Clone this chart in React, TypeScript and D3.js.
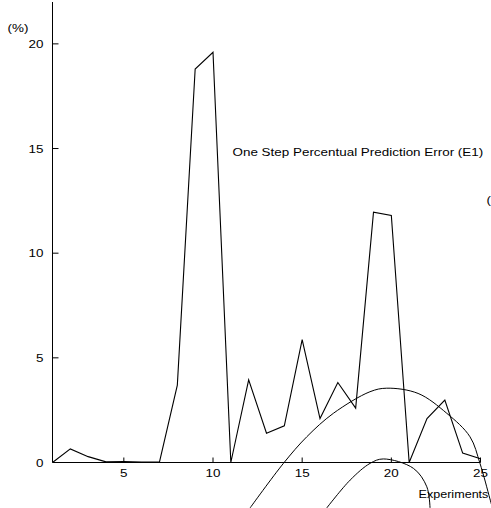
import React from "react";
import * as d3 from "d3";

// experiment index and one-step percentual prediction error (E1), in %
const experiments = [1, 2, 3, 4, 5, 6, 7, 8, 9, 10, 11, 12, 13, 14, 15, 16, 17, 18, 19, 20, 21, 22, 23, 24, 25];
const errorE1 = [0, 0.65, 0.28, 0.03, 0.05, 0.02, 0.03, 3.7, 18.8, 19.6, 0, 3.95, 1.4, 1.75, 5.87, 2.1, 3.82, 2.6, 11.96, 11.8, 0, 2.1, 2.98, 0.45, 0.18];

const xTicks = [5, 10, 15, 20, 25];
const yTicks = [0, 5, 10, 15, 20];

// stray curves in the scan, traced in data units
const bigArcX = [12.08, 13.95, 15.26, 16.75, 18.8, 19.74, 21.5, 23.11, 24.41, 24.97, 25.53, 25.7];
const bigArcY = [-2.17, -0.04, 1.23, 2.35, 3.38, 3.55, 3.3, 2.35, 1.23, -0.04, -1.74, -2.27];
const smallArcX = [16.38, 17.69, 18.81, 19.55, 21.24, 21.99, 22.17];
const smallArcY = [-2.17, -0.84, -0.04, 0.17, -0.28, -1.16, -2.17];

const W = 491;
const H = 508;
const FONT = "'Liberation Sans', Arial, Helvetica, sans-serif";
const SX = 1.28;

const Label = ({ x, y, anchor = "start", sx = SX, children }: any) => (
  <text
    transform={`translate(${x},${y}) scale(${sx},1)`}
    textAnchor={anchor}
    fontFamily={FONT}
    fontSize={10.5}
    fill="#000"
  >
    {children}
  </text>
);

export default function App() {
  const x = d3.scaleLinear().domain([1, 25]).range([52.5, 480.5]);
  const y = d3.scaleLinear().domain([0, 22]).range([462.5, 2]);

  const line = d3
    .line<number>()
    .x((d, i) => x(experiments[i]))
    .y((d) => y(d));

  const arc = d3
    .line<[number, number]>()
    .x((d) => x(d[0]))
    .y((d) => y(d[1]))
    .curve(d3.curveCatmullRom);

  const big = bigArcX.map((v, i) => [v, bigArcY[i]] as [number, number]);
  const small = smallArcX.map((v, i) => [v, smallArcY[i]] as [number, number]);

  return (
    <div style={{ position: "fixed", left: 0, top: 0, width: W, height: H, background: "#fff" }}>
      <svg width={W} height={H} style={{ display: "block" }}>
        {/* axes */}
        <line x1={x(1)} x2={x(1)} y1={y(22)} y2={y(0)} stroke="#000" />
        <line x1={x(1)} x2={x(25)} y1={y(0)} y2={y(0)} stroke="#000" />
        {yTicks.map((t) => (
          <g key={"y" + t}>
            {t > 0 && <line x1={x(1)} x2={x(1) + 6} y1={y(t)} y2={y(t)} stroke="#000" />}
            <Label x={43.5} y={y(t) + 4} anchor="end">
              {t}
            </Label>
          </g>
        ))}
        {xTicks.map((t) => (
          <g key={"x" + t}>
            <line x1={x(t)} x2={x(t)} y1={y(0)} y2={y(0) - 5} stroke="#000" />
            <Label x={x(t)} y={476.5} anchor="middle">
              {t}
            </Label>
          </g>
        ))}
        <Label x={7.5} y={31.5}>(%)</Label>
        <Label x={232.5} y={156}>One Step Percentual Prediction Error (E1)</Label>
        <Label x={418.5} y={497.5} sx={1.2}>Experiments</Label>
        <Label x={486.5} y={203.5}>(</Label>

        {/* series */}
        <path d={line(errorE1) || ""} fill="none" stroke="#000" strokeWidth={1.1} />

        {/* stray arcs */}
        <path d={arc(big) || ""} fill="none" stroke="#000" strokeWidth={1} />
        <path d={arc(small) || ""} fill="none" stroke="#000" strokeWidth={1} />
      </svg>
    </div>
  );
}
